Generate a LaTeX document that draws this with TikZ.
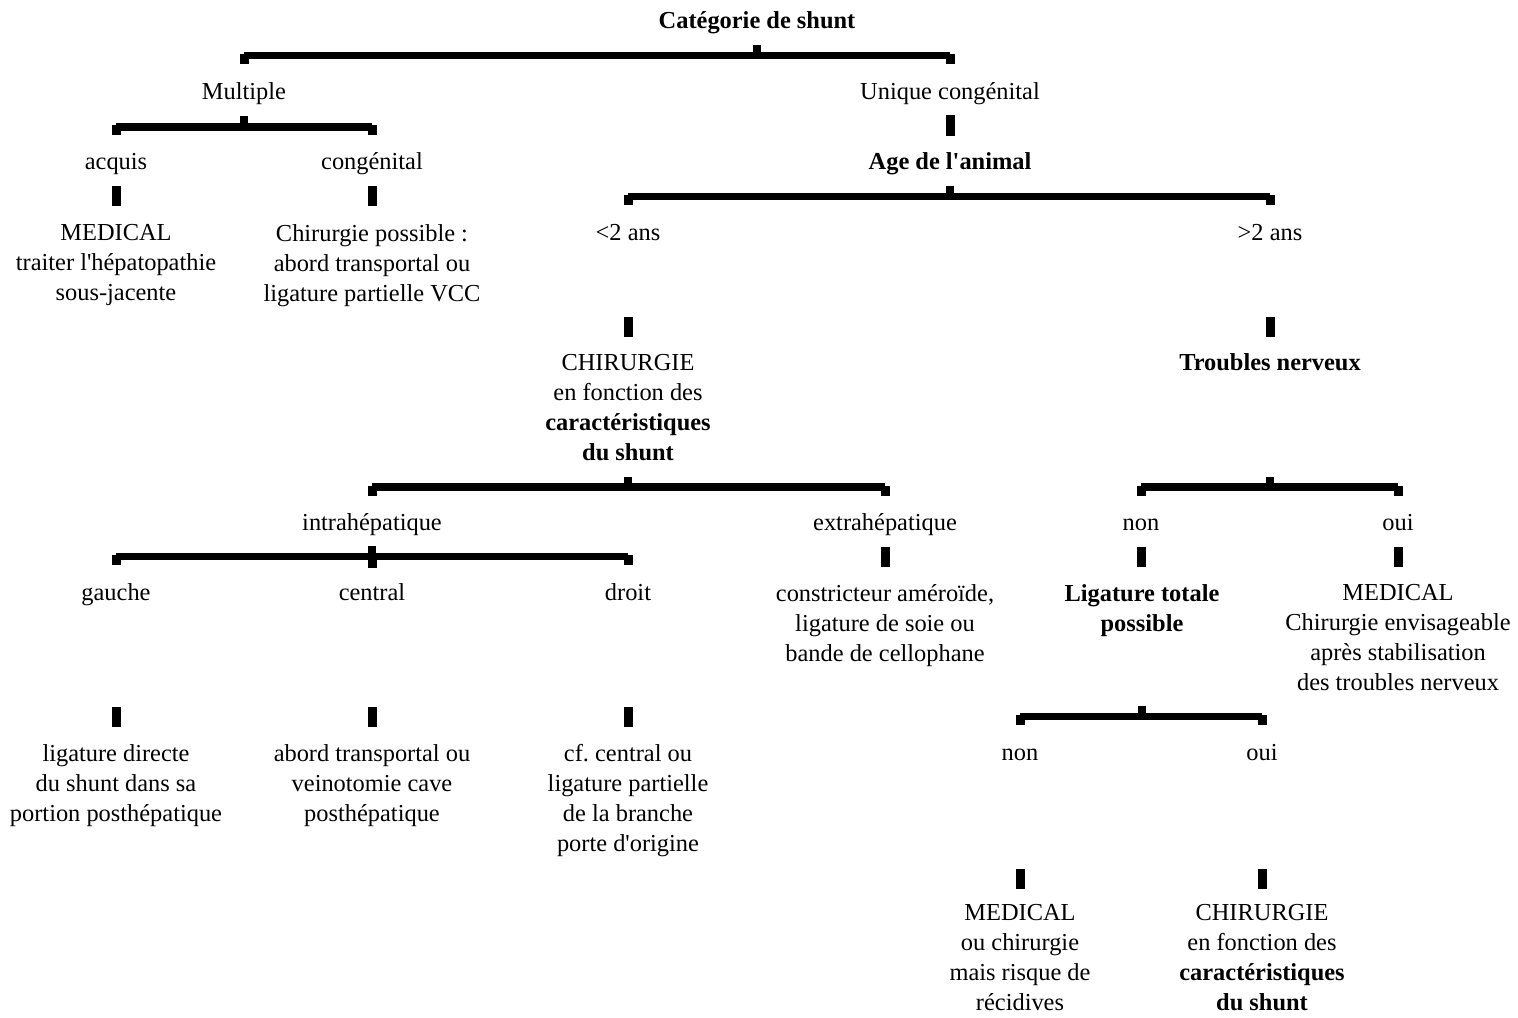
\documentclass[tikz,border=0pt]{standalone}
\usepackage{fontspec}
\setmainfont{Liberation Serif}
\usetikzlibrary{calc}
\tikzset{
  lbl/.style={inner sep=0pt, align=center, font=\fontsize{12.2}{15}\selectfont,
    execute at begin node=\strut, execute at end node=\strut, yshift=-1.2pt},
  blbl/.style={lbl, font=\fontsize{12.2}{15}\selectfont\bfseries},
  ml/.style={yshift=-1.4pt},
}
\newcommand\q{\textquotesingle}
\newcommand\brk[4]{%
  \path (#1 |- 0,#4) coordinate (bL) (#2 |- 0,#4) coordinate (bM) (#3 |- 0,#4) coordinate (bR);
  \fill ([shift={(0,-3.8)}]bL) rectangle ([shift={(0,3.8)}]bR);
  \fill ([shift={(-4.5,-1.5)}]bL) rectangle ([shift={(4.5,8.5)}]bL);
  \fill ([shift={(-4.5,-1.5)}]bR) rectangle ([shift={(4.5,8.5)}]bR);
  \fill ([shift={(-4,-10.5)}]bM) rectangle ([shift={(4,0)}]bM);
}
\newcommand\midstub{%
  \fill ([shift={(-4.5,0)}]bM) rectangle ([shift={(4.5,11.5)}]bM);
}
\newcommand\vtk[3]{%
  \fill ($(#1 |- 0,#2)+(-4.5,0)$) rectangle ($(#1 |- 0,#3)+(4.5,0)$);
}
\begin{document}
\begin{tikzpicture}[x=0.5pt,y=-0.5pt]
\useasboundingbox (0,0) rectangle (1518,1017);
% nodes
\node[blbl] (cat) at (757,20) {Catégorie de shunt};
\node[lbl] (mult) at (244,91) {Multiple};
\node[lbl] (uniq) at (950,91) {Unique congénital};
\node[lbl] (acq) at (116,161) {acquis};
\node[lbl] (cong) at (372,161) {congénital};
\node[blbl] (age) at (950,161) {Age de l\q animal};
\node[lbl,ml] (med1) at (116,262) {MEDICAL\\traiter l\q hépatopathie\\sous-jacente};
\node[lbl,ml] (chir1) at (372,262) {Chirurgie possible :\\abord transportal ou\\ligature partielle VCC};
\node[lbl] (lt2) at (628,232) {<2 ans};
\node[lbl] (gt2) at (1270,232) {>2 ans};
\node[lbl,ml] (chir2) at (628,407) {CHIRURGIE\\en fonction des\\\textbf{caractéristiques}\\\textbf{du shunt}};
\node[blbl] (trou) at (1270,362) {Troubles nerveux};
\node[lbl] (intra) at (372,522) {intrahépatique};
\node[lbl] (extra) at (885,522) {extrahépatique};
\node[lbl] (non1) at (1141,522) {non};
\node[lbl] (oui1) at (1398,522) {oui};
\node[lbl] (gau) at (116,592) {gauche};
\node[lbl] (cen) at (372,592) {central};
\node[lbl] (dro) at (628,592) {droit};
\node[lbl,ml] (constr) at (885,622) {constricteur améroïde,\\ligature de soie ou\\bande de cellophane};
\node[blbl,ml] (ligt) at (1142,607) {Ligature totale\\possible};
\node[lbl,ml] (med2) at (1398,637) {MEDICAL\\Chirurgie envisageable\\après stabilisation\\des troubles nerveux};
\node[lbl,ml] (ligd) at (116,782) {ligature directe\\du shunt dans sa\\portion posthépatique};
\node[lbl,ml] (abord) at (372,782) {abord transportal ou\\veinotomie cave\\posthépatique};
\node[lbl,ml] (cf) at (628,797) {cf.\ central ou\\ligature partielle\\de la branche\\porte d\q origine};
\node[lbl] (non2) at (1020,752) {non};
\node[lbl] (oui2) at (1262,752) {oui};
\node[lbl,ml] (med3) at (1020,957) {MEDICAL\\ou chirurgie\\mais risque de\\récidives};
\node[lbl,ml] (chir3) at (1262,957) {CHIRURGIE\\en fonction des\\\textbf{caractéristiques}\\\textbf{du shunt}};
% brackets
\brk{mult}{cat}{uniq}{55.5}
\brk{acq}{mult}{cong}{126.7}
\brk{lt2}{age}{gt2}{196.5}
\brk{intra}{chir2}{extra}{487}
\brk{non1}{trou}{oui1}{487}
\brk{gau}{intra}{dro}{556.5}
\midstub
\brk{non2}{ligt}{oui2}{716.5}
% vertical ticks
\vtk{uniq}{115}{136}
\vtk{acq}{186}{206}
\vtk{cong}{186}{206}
\vtk{lt2}{317}{337}
\vtk{gt2}{317}{337}
\vtk{extra}{547}{567}
\vtk{non1}{547}{567}
\vtk{oui1}{547}{567}
\vtk{gau}{707}{727}
\vtk{cen}{707}{727}
\vtk{dro}{707}{727}
\vtk{non2}{869}{889}
\vtk{oui2}{869}{889}
\end{tikzpicture}
\end{document}
